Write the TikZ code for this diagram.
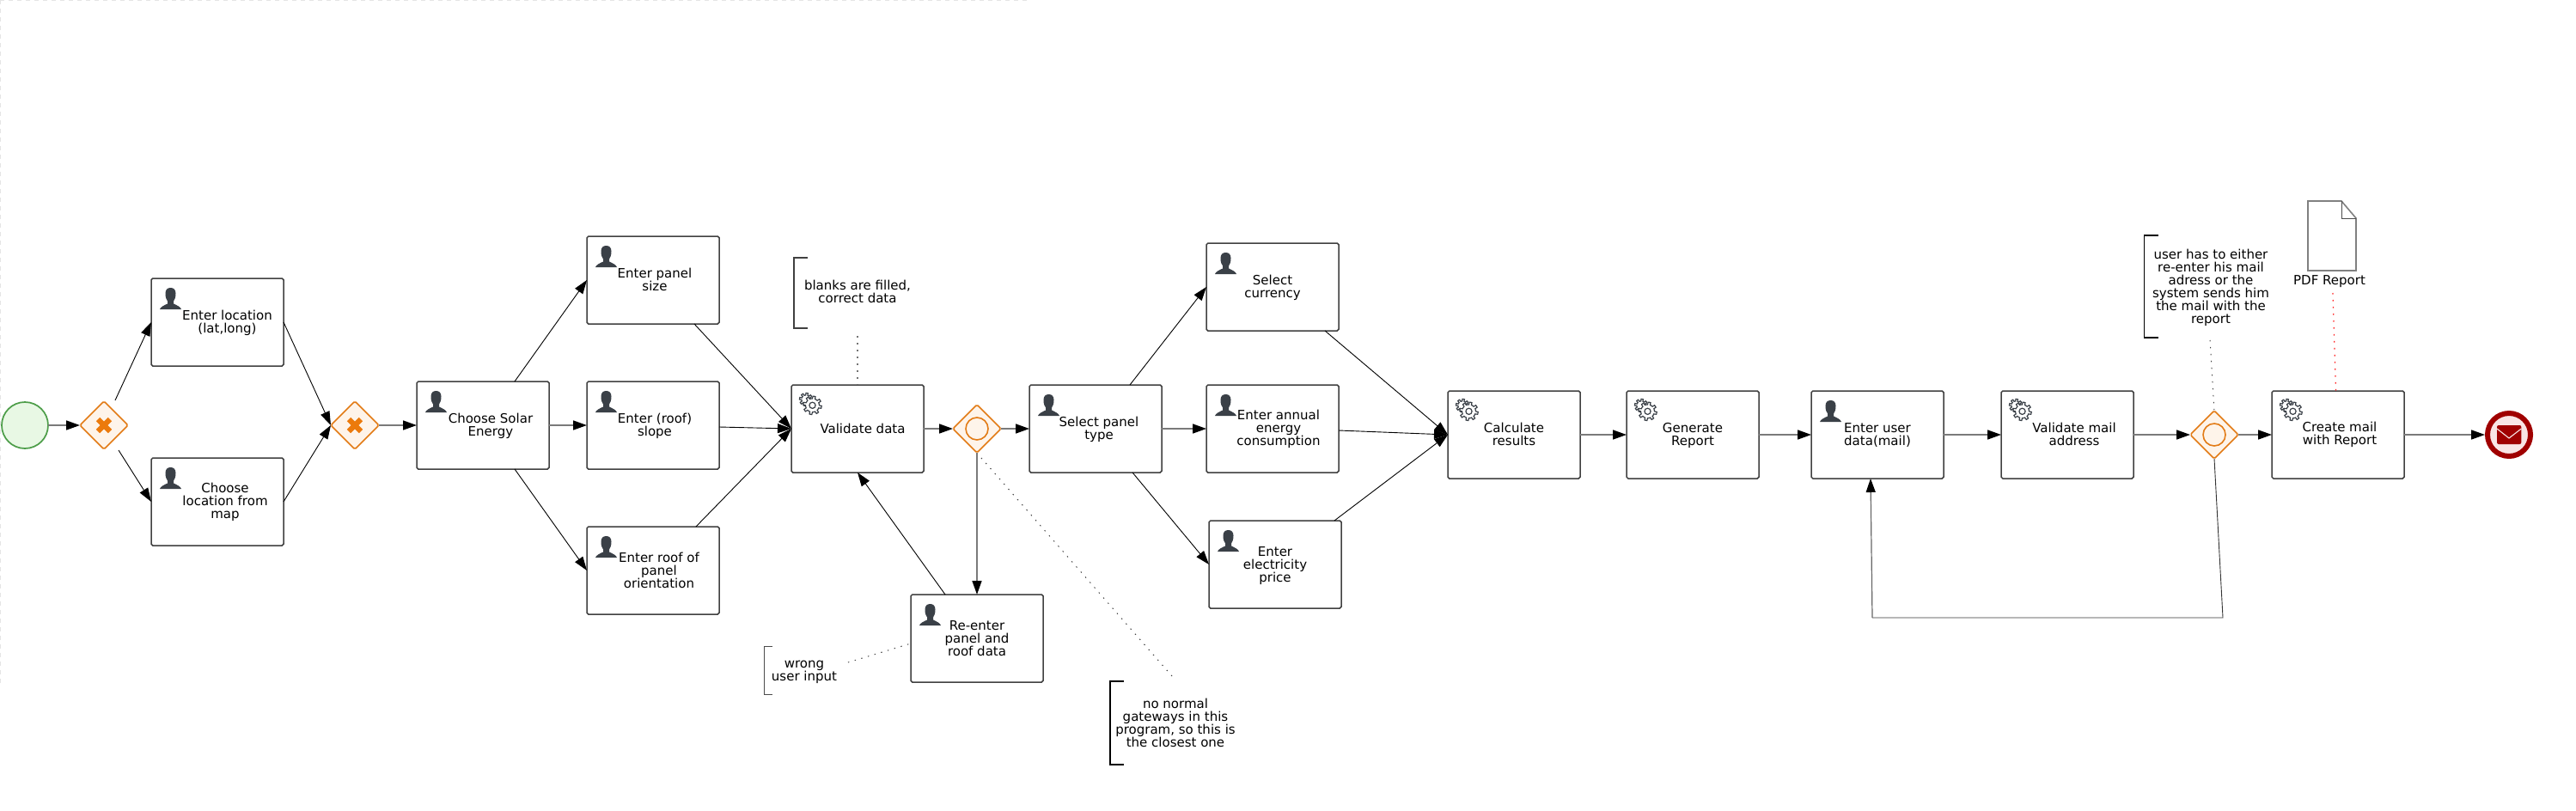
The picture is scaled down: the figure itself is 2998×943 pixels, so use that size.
\documentclass[tikz,border=0pt]{standalone}
\usepackage{fontspec}
\setmainfont{DejaVu Sans}
\usetikzlibrary{arrows.meta,shapes.geometric}
\definecolor{taskline}{HTML}{404040}
\definecolor{iconc}{HTML}{3A4047}
\definecolor{gworange}{HTML}{E27B16}
\definecolor{gwfill}{HTML}{FEF4EA}
\definecolor{xorange}{HTML}{EC7A0C}
\definecolor{endred}{HTML}{A00000}
\definecolor{startline}{HTML}{4C9D48}
\definecolor{startfill}{HTML}{E8F8E4}
\definecolor{endfill}{HTML}{F9E5E5}
\newcommand{\lnst}{\vrule height 7.5pt depth 2pt width 0pt\relax}
\newcommand{\txtfont}{\fontsize{7.5}{7.5}\selectfont\lineskiplimit=-10pt\relax}
\tikzset{
  taskbox/.style={draw=taskline,line width=.75pt,fill=white,rounded corners=.9pt,minimum width=77pt,minimum height=51pt,inner sep=0pt,outer sep=0pt},
  txt/.style={font=\txtfont,align=center,inner sep=0pt,outer sep=0pt},
  gwbox/.style={diamond,aspect=1,draw=gworange,fill=gwfill,line width=.8pt,rounded corners=.9pt,minimum width=28pt,minimum height=28pt,inner sep=0pt,outer sep=0pt},
  evstart/.style={circle,draw=startline,fill=startfill,line width=.85pt,minimum size=27pt,inner sep=0pt,outer sep=0pt},
  evend/.style={circle,draw=endred,fill=endfill,line width=3pt,minimum size=25pt,inner sep=0pt,outer sep=1.5pt},
  flow/.style={line width=.45pt,black,-{Triangle[length=8pt,width=5.5pt,black]}},
  flowg/.style={line width=.8pt,black!52,-{Triangle[length=8pt,width=5.5pt,black]}},
  dotc/.style={line width=.5pt,black!75,dash pattern=on .7pt off 3.3pt},
  dotg/.style={line width=.85pt,black!55,dash pattern=on 1pt off 3pt},
  dotr/.style={line width=.6pt,red!85,dash pattern=on .8pt off 3.2pt},
  annbox/.style={minimum width=8pt,inner sep=0pt,outer sep=0pt,anchor=west},
  usericon/.pic={
    \fill[iconc] (0,25) .. controls (1,22) and (5,20.5) .. (9,18.5) -- (9,15.5) .. controls (7.5,13.5) and (6.5,11) .. (6.5,6.5) .. controls (6.5,2) and (9,0) .. (12.5,0) .. controls (16,0) and (18.5,2) .. (18.5,6.5) .. controls (18.5,11) and (17.5,13.5) .. (16,15.5) -- (16,18.5) .. controls (20,20.5) and (24,22) .. (25,25) -- cycle;
  },
  gearicon/.pic={
    \draw[iconc,line width=.6pt,fill=white] plot[domain=0:360,samples=97,variable=\ta] (\ta:{6.3+1.2*(sin(8*\ta+10)>0?1:-1)}) -- cycle;
    \begin{scope}[shift={(7.5,6.8)}]
      \draw[iconc,line width=.6pt,fill=white] plot[domain=0:360,samples=97,variable=\ta] (\ta:{9.3+1.4*(sin(8*\ta)>0?1:-1)}) -- cycle;
      \draw[iconc,line width=.6pt,fill=white] (0,0) circle[x radius=3.6,y radius=3.6];
    \end{scope}
  },
}
\newcommand{\mytask}[7]{%
  \node[taskbox] (#1) at ({#2+77},{#3+51}) {};
  \pic at ([shift={(#4)}]#1.north west) {#5};
  \node[txt] (#1l) at (#6) {#7};
}
\begin{document}
\begin{tikzpicture}[x=.5pt,y=-.5pt]
\useasboundingbox (0,0) rectangle (2998,943);
\coordinate (fa) at (0,0.7); \coordinate (fb) at (1195,0.7); \coordinate (fc) at (0.7,0); \coordinate (fd) at (0.7,795);
\draw[line width=.7pt,black!10,dash pattern=on 2.5pt off 2.5pt] (fa) -- (fb);
\draw[line width=.7pt,black!10,dash pattern=on 2.5pt off 2.5pt] (fc) -- (fd);

\node[evstart] (start) at (29,495) {};
\node[gwbox] (gw1) at (121,495) {};
\node[gwbox] (gw2) at (413,495) {};
\node[gwbox] (gw3) at (1137,499) {};
\node[gwbox] (gw4) at (2577,506) {};
\foreach \g in {gw1,gw2}{
  \draw[xorange,line width=3.1pt] ([shift={(-7,-7)}]\g.center) -- ([shift={(7,7)}]\g.center);
  \draw[xorange,line width=3.1pt] ([shift={(7,-7)}]\g.center) -- ([shift={(-7,7)}]\g.center);
}
\foreach \g in {gw3,gw4}{
  \draw[gworange,line width=.8pt] (\g.center) circle[x radius=13,y radius=13];
}

\mytask{t1}{176}{324}{10,11}{usericon}{264.5,374}{\lnst Enter location\\\lnst (lat,long)}
\mytask{t2}{176}{533}{10,11}{usericon}{262,583}{\lnst Choose\\\lnst location from\\\lnst map}
\mytask{t3}{485}{444}{10,11}{usericon}{571,494.5}{\lnst Choose Solar\\\lnst Energy}
\mytask{t4}{683}{275}{10,11}{usericon}{762,325}{\lnst Enter panel\\\lnst size}
\mytask{t5}{683}{444}{10,11}{usericon}{762,494.5}{\lnst Enter (roof)\\\lnst slope}
\mytask{t6}{683}{613}{10,11}{usericon}{767,664}{\lnst Enter roof of\\\lnst panel\\\lnst orientation}
\mytask{t7}{921}{448}{17,17}{gearicon}{1004,499}{\lnst Validate data}
\mytask{t8}{1198}{448}{10,11}{usericon}{1279,498.5}{\lnst Select panel\\\lnst type}
\mytask{t9}{1060}{692}{10,11}{usericon}{1137,743}{\lnst Re-enter\\\lnst panel and\\\lnst roof data}
\mytask{t10}{1404}{283}{10,11}{usericon}{1481,333.5}{\lnst Select\\\lnst currency}
\mytask{t11}{1404}{448}{10,11}{usericon}{1488,498}{\lnst Enter annual\\\lnst energy\\\lnst consumption}
\mytask{t12}{1407}{606}{10,11}{usericon}{1484,657}{\lnst Enter\\\lnst electricity\\\lnst price}
\mytask{t13}{1685}{455}{17,17}{gearicon}{1762,505.5}{\lnst Calculate\\\lnst results}
\mytask{t14}{1893}{455}{17,17}{gearicon}{1970,505.5}{\lnst Generate\\\lnst Report}
\mytask{t15}{2108}{455}{10,11}{usericon}{2185,505.5}{\lnst Enter user\\\lnst data(mail)}
\mytask{t16}{2329}{455}{17,17}{gearicon}{2414,505.5}{\lnst Validate mail\\\lnst address}
\mytask{t17}{2644}{455}{17,17}{gearicon}{2723,504.5}{\lnst Create mail\\\lnst with Report}

\node[evend] (end) at (2920,506) {};
\fill[endred,rounded corners=1pt] ([shift={(-14,-11)}]end.center) rectangle ([shift={(14.3,11)}]end.center);
\draw[line width=.55pt,endfill] ([shift={(-14,-7)}]end.center) -- ([shift={(0,4)}]end.center) -- ([shift={(14.3,-7)}]end.center);

% sequence flows
\draw[flowg] (start.east) -- (gw1.west);
\draw[flow] ([shift={(13,-1)}]gw1.north) -- (t1.west);
\draw[flow] ([shift={(17,1)}]gw1.south) -- (t2.west);
\draw[flow] (t1.east) -- (gw2.west);
\draw[flow] (t2.east) -- (gw2.west);
\draw[flowg] (gw2.east) -- (t3.west);
\draw[flow] ([shift={(37,0)}]t3.north) -- (t4.west);
\draw[flowg] (t3.east) -- (t5.west);
\draw[flow] ([shift={(37,0)}]t3.south) -- (t6.west);
\draw[flow] ([shift={(48,0)}]t4.south) -- (t7.west);
\draw[flow] ([shift={(0,2)}]t5.east) -- (t7.west);
\draw[flow] ([shift={(50,0)}]t6.north) -- (t7.west);
\draw[flowg] (t7.east) -- (gw3.west);
\draw[flowg] (gw3.east) -- (t8.west);
\draw[flowg] (gw3.south) -- (t9.north);
\draw[flow] ([shift={(-37,0)}]t9.north) -- (t7.south);
\draw[flow] ([shift={(40,0)}]t8.north) -- (t10.west);
\draw[flowg] (t8.east) -- (t11.west);
\draw[flow] ([shift={(43,0)}]t8.south) -- (t12.west);
\draw[flow] ([shift={(61,0)}]t10.south) -- (t13.west);
\draw[flow] ([shift={(0,2)}]t11.east) -- (t13.west);
\draw[flow] ([shift={(69,0)}]t12.north) -- (t13.west);
\draw[flowg] (t13.east) -- (t14.west);
\draw[flowg] (t14.east) -- (t15.west);
\draw[flowg] (t15.east) -- (t16.west);
\draw[flowg] (t16.east) -- (gw4.west);
\draw[flowg] (gw4.east) -- (t17.west);
\draw[flowg] (t17.east) -- (end.west);
\coordinate (lp1) at (2587,719);
\coordinate (lp2) at (2179,719);
\draw[line width=.45pt,black!80] (gw4.south) -- (lp1) -- (lp2);
\draw[line width=.6pt,black!60,-{Triangle[length=8pt,width=5.5pt,black]}] (lp2) -- ([shift={(-8,0)}]t15.south);

% annotations
\node[annbox,minimum height=41pt] (a1) at (924,341) {};
\draw[line width=.8pt,taskline] (a1.north east) -- (a1.north west) -- (a1.south west) -- (a1.south east);
\node[txt] (a1l) at (998,339.8) {\lnst blanks are filled,\\\lnst correct data};
\coordinate (a1c) at (998,391);
\draw[dotg] (a1c) -- (t7.north);

\node[annbox,minimum width=5pt,minimum height=28pt] (a2) at (889,780) {};
\draw[line width=.5pt,black!70] (a2.north east) -- (a2.north west) -- (a2.south west) -- (a2.south east);
\node[txt] (a2l) at (936,779.5) {\lnst wrong\\\lnst user input};
\coordinate (a2c) at (987,771);
\draw[dotc] (a2c) -- ([shift={(0,6)}]t9.west);

\node[annbox,minimum height=48.5pt] (a3) at (1292,841.5) {};
\draw[line width=.8pt,black] (a3.north east) -- (a3.north west) -- (a3.south west) -- (a3.south east);
\node[txt] (a3l) at (1368,841.5) {\lnst no normal\\\lnst gateways in this\\\lnst program, so this is\\\lnst the closest one};
\coordinate (a3c) at (1364,787);
\draw[dotc] (a3c) -- ([shift={(5,6)}]gw3.south);

\node[annbox,minimum height=59.5pt] (a4) at (2495.5,333.5) {};
\draw[line width=.8pt,black] (a4.north east) -- (a4.north west) -- (a4.south west) -- (a4.south east);
\node[txt] (a4l) at (2573,333.5) {\lnst user has to either\\\lnst re-enter his mail\\\lnst adress or the\\\lnst system sends him\\\lnst the mail with the\\\lnst report};
\coordinate (a4c) at (2572,396);
\draw[dotc] (a4c) -- (gw4.north);

% data object
\node[inner sep=0pt,outer sep=0pt,minimum width=28pt,minimum height=40.5pt] (doc) at (2714,274.5) {};
\draw[line width=.8pt,black!50,fill=white] (doc.north west) -- ([shift={(-17,0)}]doc.north east) -- ([shift={(0,20)}]doc.north east) -- (doc.south east) -- (doc.south west) -- cycle;
\draw[line width=.5pt,black!70] ([shift={(-17,0)}]doc.north east) -- ([shift={(-17,20)}]doc.north east) -- ([shift={(0,20)}]doc.north east);
\node[txt] (docl) at (2711,326) {\lnst PDF Report};
\coordinate (docc) at (2715,341);
\draw[dotr] (docc) -- ([shift={(-2.5,0)}]t17.north);
\end{tikzpicture}
\end{document}
